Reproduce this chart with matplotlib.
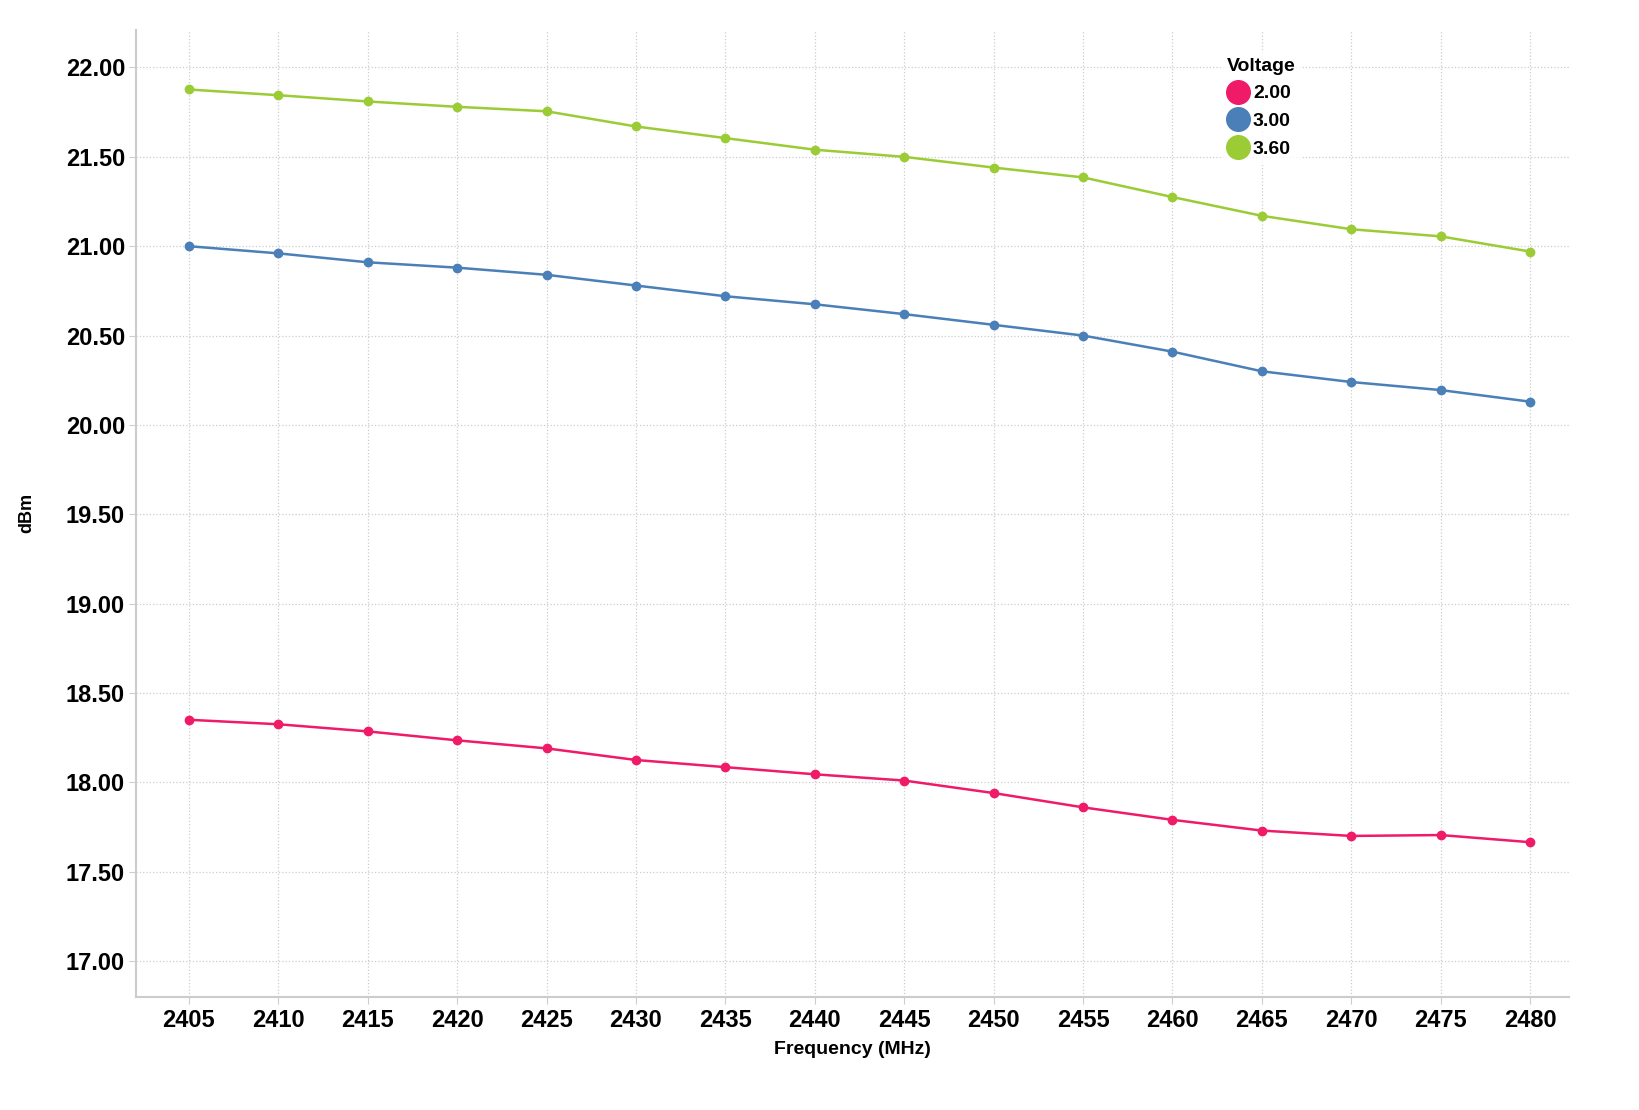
import numpy as np
import matplotlib.pyplot as plt

plt.rcParams['font.family'] = ['Liberation Sans', 'DejaVu Sans']
plt.rcParams['font.weight'] = 'bold'

frekans = [2405, 2410, 2415, 2420, 2425, 2430, 2435, 2440, 2445, 2450, 2455, 2460, 2465, 2470, 2475, 2480]
v200 = [18.35, 18.325, 18.285, 18.235, 18.19, 18.125, 18.085, 18.045, 18.01, 17.94, 17.86, 17.79, 17.73, 17.70, 17.705, 17.665]
v300 = [21.00, 20.96, 20.91, 20.88, 20.84, 20.78, 20.72, 20.675, 20.62, 20.56, 20.50, 20.41, 20.30, 20.24, 20.195, 20.13]
v360 = [21.877, 21.845, 21.81, 21.78, 21.755, 21.67, 21.605, 21.54, 21.50, 21.44, 21.385, 21.275, 21.17, 21.095, 21.055, 20.97]
etiketler = ['2.00', '3.00', '3.60']
renkler = ['#ef1b68', '#4a7fb8', '#9bcb35']

fig = plt.figure(figsize=(16.4, 11.1), dpi=100)
ax = fig.add_axes([0.083, 0.102, 0.874, 0.871])

for y, etiket, renk in zip([v200, v300, v360], etiketler, renkler):
    ax.plot(frekans, y, color=renk, lw=1.8, marker='o', ms=6, label=etiket)

ax.set_xlim(2402.05, 2482.2)
ax.set_ylim(16.80, 22.21)
ax.set_xticks(frekans)
ax.set_yticks(np.arange(17, 22.01, 0.5))
ax.set_yticklabels([f'{v:.2f}' for v in np.arange(17, 22.01, 0.5)])
ax.tick_params(axis='both', labelsize=17, colors='black')
ax.tick_params(axis='x', length=5, color='#cccccc', pad=4)
ax.tick_params(axis='y', length=5, color='#cccccc', pad=3)
ax.grid(True, color='#cccccc', ls=':', lw=0.9)

for s in ['top', 'right']:
    ax.spines[s].set_visible(False)
for s in ['left', 'bottom']:
    ax.spines[s].set_color('#cccccc')
    ax.spines[s].set_linewidth(1.5)

ax.set_xlabel('Frequency (MHz)', fontsize=14, fontweight='bold', labelpad=6)
ax.set_ylabel('dBm', fontsize=13, fontweight='bold', labelpad=22)

handles = [plt.Line2D([], [], ls='none', marker='o', ms=17, color=r) for r in renkler]
leg = ax.legend(handles, etiketler, title='Voltage', loc='upper left',
                bbox_to_anchor=(0.75, 0.987), frameon=True, fontsize=14,
                title_fontproperties={'weight': 'bold', 'size': 14},
                handletextpad=0.15, labelspacing=0.52, borderpad=0.3, handlelength=1.2)
leg.get_frame().set_facecolor('white')
leg.get_frame().set_edgecolor('white')
leg._legend_box.align = 'left'
leg._legend_box.sep = 7

fig.savefig('out.png', dpi=100)
